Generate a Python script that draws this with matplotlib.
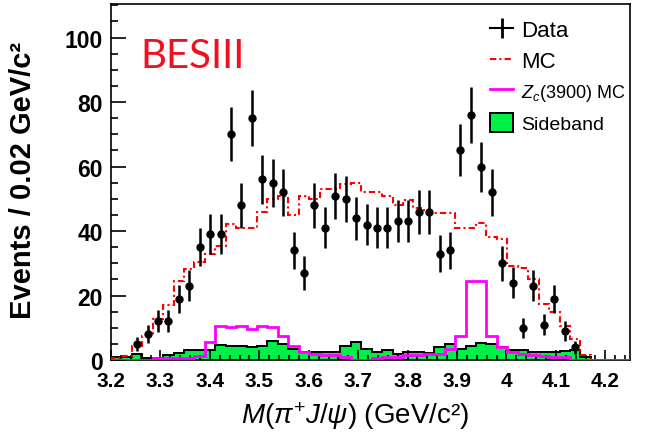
import numpy as np
import matplotlib
matplotlib.use("Agg")
import matplotlib.pyplot as plt
from matplotlib.lines import Line2D
from matplotlib.patches import Patch
from matplotlib.ticker import MultipleLocator, FormatStrFormatter

plt.rcParams['font.family'] = ['Liberation Sans', 'DejaVu Sans']
plt.rcParams['mathtext.fontset'] = 'custom'
plt.rcParams['mathtext.rm'] = 'Liberation Sans'
plt.rcParams['mathtext.it'] = 'Liberation Sans:italic'
plt.rcParams['mathtext.bf'] = 'Liberation Sans:bold'

# Binning of all histograms (50 bins)
bin_lo = 3.200
bin_hi = 4.255

# Data: events per bin, starting at the third bin
data_first_bin = 2
data_counts = [5, 8, 12, 12, 19, 23, 35, 39, 39, 70,
               48, 75, 56, 55, 52, 34, 27, 48, 41, 51,
               50, 44, 42, 41, 41, 43, 43, 46, 46, 33,
               34, 65, 76, 60, 52, 30, 24, 10, 23, 11,
               19, 9, 4]

# Signal MC, Z_c(3900) MC and sideband, one value per bin
mc_counts = [0.5, 1.3, 4.3, 7.4, 12.7, 17, 24.6, 28.2, 30.4, 32.9,
             35.4, 42.2, 41, 41, 46, 50, 51, 45, 51, 50,
             53, 53, 54.5, 55, 52, 52, 51, 48, 49.5, 47,
             46, 45.5, 45.5, 41, 41, 42.5, 38, 37.5, 29, 28.5,
             25, 17.5, 15, 10.5, 6.5, 1.5, 0, 0, 0, 0]
zc_counts = [0, 0, 0, 0, 0.5, 0.5, 0.5, 0.5, 1.3, 5.6,
             10.6, 10.2, 10.6, 9.6, 10.6, 10.2, 7.5, 4.3, 2.5, 2,
             1.5, 1.5, 1, 0, 0, 0.5, 1, 1, 1.5, 1.5,
             2, 2, 3.5, 7.5, 24.5, 24.5, 7.5, 4, 2.5, 2,
             1.5, 1.2, 1, 0.8, 0, 0, 0, 0, 0, 0]
sideband_counts = [1, 1, 2, 0.5, 0.5, 1.5, 2.2, 3, 3, 3,
                   4.8, 4.3, 4.2, 4, 4.4, 6, 5, 3.5, 2.5, 2.4,
                   2.4, 2.6, 4.4, 5.5, 3.4, 2.6, 3, 1.9, 2.6, 2.6,
                   2.2, 3.9, 5, 3.5, 4.4, 5.3, 5, 4, 3, 3,
                   2.6, 2.5, 2.5, 2.7, 3, 0.8, 0, 0, 0, 0]

edges = np.linspace(bin_lo, bin_hi, len(mc_counts) + 1)
centers = 0.5 * (edges[:-1] + edges[1:])
data_mass = centers[data_first_bin:data_first_bin + len(data_counts)]
data_err = np.sqrt(data_counts)

green = '#00f048'
magenta = '#ff00ff'
mc_style = (0, (3, 1.5, 1, 1.5))

fig = plt.figure(figsize=(6.5, 4.35), dpi=100)
ax = fig.add_axes([0.1708, 0.1701, 0.7985, 0.8184])

ax.stairs(sideband_counts, edges, fill=True, color=green, zorder=1)
ax.stairs(sideband_counts, edges, color='black', lw=1.4, zorder=2)
ax.stairs(mc_counts, edges, color='red', lw=1.5, linestyle=mc_style, zorder=3)
ax.stairs(zc_counts, edges, color=magenta, lw=2, zorder=4)

ax.errorbar(data_mass, data_counts, yerr=data_err, fmt='o',
            color='black', ms=5, elinewidth=1.8, capsize=0, zorder=5)

ax.set_xlim(3.2, 4.25)
ax.set_ylim(0, 110.4)
ax.xaxis.set_major_locator(MultipleLocator(0.1))
ax.xaxis.set_minor_locator(MultipleLocator(0.02))
ax.xaxis.set_major_formatter(FormatStrFormatter('%g'))
ax.yaxis.set_major_locator(MultipleLocator(20))
ax.yaxis.set_minor_locator(MultipleLocator(5))
ax.tick_params(which='both', direction='in', top=False, right=False,
               width=1.2, color='black')
ax.tick_params(axis='y', which='major', length=10.5, pad=6, labelsize=16.5)
ax.tick_params(axis='y', which='minor', length=5)
ax.tick_params(axis='x', which='major', length=7, pad=8, labelsize=15)
ax.tick_params(axis='x', which='minor', length=3.5)
for lab in ax.get_xticklabels() + ax.get_yticklabels():
    lab.set_fontweight('bold')
for sp in ax.spines.values():
    sp.set_linewidth(1.2)

ax.set_ylabel('Events / 0.02 GeV/c²', fontsize=21, fontweight='bold')
ax.yaxis.set_label_coords(-0.143, 0.508)
ax.set_xlabel(r'$M(\pi^{+}J/\psi)$ (GeV/c²)', fontsize=20)
ax.xaxis.set_label_coords(0.47, -0.11)

ax.text(0.056, 0.823, 'BESIII', transform=ax.transAxes, color='#f01020',
        fontsize=29, family='Lato', ha='left', va='baseline')

handles = [
    Line2D([], [], color='black', lw=1.5, marker='|', ms=14, mew=2),
    Line2D([], [], color='red', lw=1.5, linestyle=mc_style),
    Line2D([], [], color=magenta, lw=2),
    Patch(facecolor=green, edgecolor='black', lw=1.4),
]
labels = ['Data', 'MC', r'$Z_{c}$(3900) MC', 'Sideband']
leg = ax.legend(handles, labels, loc='upper left',
                bbox_to_anchor=(0.73, 0.955), frameon=False, fontsize=14,
                handlelength=1.2, handleheight=1.1, handletextpad=0.4,
                labelspacing=0.5, borderaxespad=0, borderpad=0)
for txt, size in zip(leg.get_texts(), [16, 16, 13, 14]):
    txt.set_fontsize(size)

fig.savefig('out.png', dpi=100)
